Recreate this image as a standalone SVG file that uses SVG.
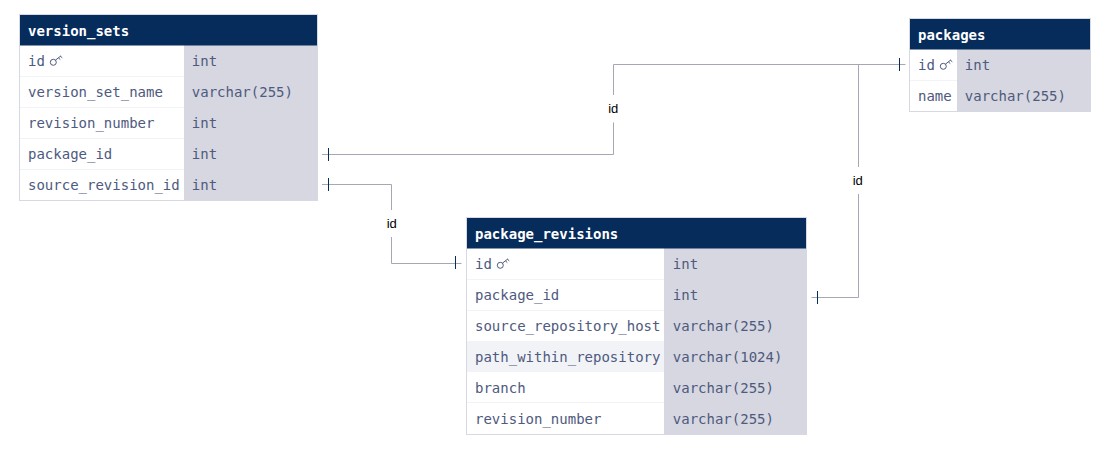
<svg xmlns="http://www.w3.org/2000/svg" width="1106" height="451" viewBox="0 0 1106 451">
<style>
text{font-family:"DejaVu Sans Mono",monospace;font-size:14px;fill:#4e5a7e}
.t{font-weight:700;fill:#fff}
.h{fill:#062c5b}
.k{fill:#d6d7e0}
.o{fill:none;stroke:#d6d9e3;stroke-width:1}
.s{stroke:#f2f3f7;stroke-width:1}
.c{fill:none;stroke:#a5a7b5;stroke-width:1}
.b{stroke:#062c5b;stroke-width:1}
.i{fill:none;stroke:#4e5a7e;stroke-width:1}
.l{font-family:"Liberation Sans",Arial,sans-serif;font-size:13px;fill:#000;text-anchor:middle}
</style>
<defs>
<g id="key"><circle cx="3.800" cy="8.300" r="3" class="i"/><path d="M6 6.100L11.500 1.800" class="i"/><path d="M9 4L10.800 5.600M11 2.300L12.800 3.800" class="i"/></g>
</defs>
<g id="connectors">
<path class="c" d="M322 154.500H613.500V64.500H905.500"/>
<path class="c" d="M322 184.500H391.500V263.500H461.500"/>
<path class="c" d="M811.500 297.500H858.500V64.500H905"/>
<path class="b" d="M328.500 148V161M328.500 178V191M455.500 256V269M817.500 291V304M899.500 58V71"/>
<rect x="606" y="95" width="15" height="27.500" fill="#fff"/><text class="l" x="613.200" y="113">id</text>
<rect x="384" y="210" width="15" height="27" fill="#fff"/><text class="l" x="391.700" y="228">id</text>
<rect x="851" y="167" width="15" height="27" fill="#fff"/><text class="l" x="857.700" y="185">id</text>
</g>
<g id="version_sets">
<rect x="20" y="15" width="297" height="185" fill="#fff"/>
<rect x="184" y="45" width="134" height="155" class="k"/>
<path class="s" d="M20 76.500H184M20 107.500H184M20 138.500H184M20 169.500H184"/>
<rect x="20" y="15" width="297.500" height="30.500" class="h"/>
<rect x="19.500" y="14.500" width="298" height="186" class="o"/>
<text class="t" x="28" y="36">version_sets</text>
<text x="28" y="66">id</text><use href="#key" x="49.500" y="54"/><text x="191.800" y="66">int</text>
<text x="28" y="97">version_set_name</text><text x="191.800" y="97">varchar(255)</text>
<text x="28" y="128">revision_number</text><text x="191.800" y="128">int</text>
<text x="28" y="159">package_id</text><text x="191.800" y="159">int</text>
<text x="28" y="190">source_revision_id</text><text x="191.800" y="190">int</text>
</g>
<g id="packages">
<rect x="910" y="19" width="180" height="92" fill="#fff"/>
<rect x="957" y="49" width="133.500" height="62" class="k"/>
<path class="s" d="M910 80.500H957"/>
<rect x="910" y="19" width="180.500" height="30.500" class="h"/>
<rect x="909.500" y="18.500" width="181" height="93" class="o"/>
<text class="t" x="918" y="40">packages</text>
<text x="918" y="70">id</text><use href="#key" x="939.500" y="58"/><text x="964.800" y="70">int</text>
<text x="918" y="101">name</text><text x="964.800" y="101">varchar(255)</text>
</g>
<g id="package_revisions">
<rect x="467" y="218" width="339" height="216" fill="#fff"/>
<rect x="467" y="341" width="197" height="31" fill="#f2f3f7"/>
<rect x="664" y="248" width="142.500" height="186" class="k"/>
<path class="s" d="M467 279.500H664M467 310.500H664M467 402.500H664"/>
<rect x="467" y="218" width="339.500" height="30.500" class="h"/>
<rect x="466.500" y="217.500" width="340" height="217" class="o"/>
<text class="t" x="475" y="239">package_revisions</text>
<text x="475" y="269">id</text><use href="#key" x="496.500" y="257"/><text x="672.800" y="269">int</text>
<text x="475" y="300">package_id</text><text x="672.800" y="300">int</text>
<text x="475" y="331">source_repository_host</text><text x="672.800" y="331">varchar(255)</text>
<text x="475" y="362">path_within_repository</text><text x="672.800" y="362">varchar(1024)</text>
<text x="475" y="393">branch</text><text x="672.800" y="393">varchar(255)</text>
<text x="475" y="424">revision_number</text><text x="672.800" y="424">varchar(255)</text>
</g>
</svg>
